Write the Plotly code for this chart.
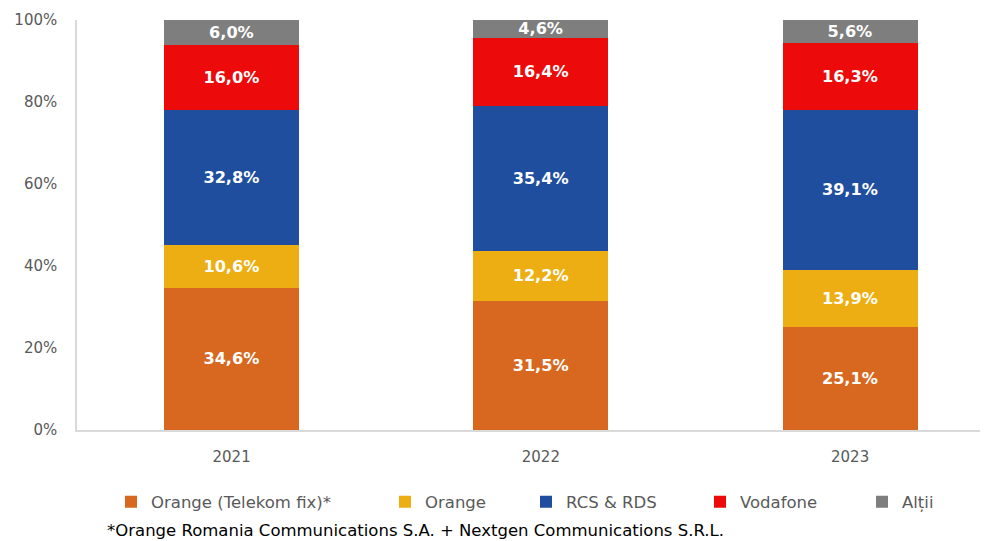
import plotly.graph_objects as go

years = ["2021", "2022", "2023"]
series_names = ["Orange (Telekom fix)*", "Orange", "RCS & RDS", "Vodafone", "Alții"]
telekom = [34.6, 31.5, 25.1]
orange = [10.6, 12.2, 13.9]
rcs = [32.8, 35.4, 39.1]
vodafone = [16.0, 16.4, 16.3]
altii = [6.0, 4.6, 5.6]
y_ticks = [0, 20, 40, 60, 80, 100]
y_tick_labels = ["0%", "20%", "40%", "60%", "80%", "100%"]
footnote = "*Orange Romania Communications S.A. + Nextgen Communications S.R.L."

values = [telekom, orange, rcs, vodafone, altii]
colors = ["#D8681F", "#ECAE12", "#1F4E9F", "#EC0A0A", "#7E7E7E"]
legend_ids = ["legend", "legend2", "legend3", "legend4", "legend5"]
text_starts = [147, 421, 562, 736, 898]

W, H = 984, 541
ml, mr, mt, mb = 77, 4, 20, 111
pw = W - ml - mr
ph = H - mt - mb

fig = go.Figure()
for name, vals, col, lg in zip(series_names, values, colors, legend_ids):
    fig.add_trace(go.Bar(
        x=years, y=vals, name=name, legend=lg,
        marker=dict(color=col, line=dict(width=0)),
        width=0.437,
        text=[f"{v:.1f}".replace(".", ",") + "%" for v in vals],
        textposition="inside", insidetextanchor="middle", textangle=0,
        textfont=dict(family="DejaVu Sans", size=16.5, color="white", weight="bold"),
        hoverinfo="skip",
    ))

layout_legends = {}
legend_y = -(502 - (H - mb)) / ph
for lg, ts in zip(legend_ids, text_starts):
    layout_legends[lg] = dict(
        x=(ts - 36 - ml) / pw, xanchor="left",
        y=legend_y, yanchor="middle",
        orientation="h", bgcolor="rgba(0,0,0,0)",
        font=dict(family="DejaVu Sans", size=16.5, color="#595959"),
        itemwidth=30,
    )

fig.update_layout(
    width=W, height=H,
    margin=dict(l=ml, r=mr, t=mt, b=mb, pad=0),
    barmode="stack",
    plot_bgcolor="white", paper_bgcolor="white",
    showlegend=True,
    uniformtext=dict(minsize=16, mode="show"),
    xaxis=dict(
        type="category", range=[-0.5, 2.42],
        showline=True, linecolor="#D9D9D9", linewidth=1.5,
        ticks="", showgrid=False,
        tickfont=dict(family="DejaVu Sans", size=15, color="#595959"),
        ticklabelstandoff=12,
    ),
    yaxis=dict(
        range=[0, 100], tickmode="array", tickvals=y_ticks, ticktext=y_tick_labels,
        showline=True, linecolor="#D9D9D9", linewidth=1.5,
        ticks="", showgrid=False, zeroline=False,
        tickfont=dict(family="DejaVu Sans", size=15, color="#595959"),
        ticklabelstandoff=15,
    ),
    annotations=[dict(
        text=footnote, xref="paper", yref="paper",
        x=(105 - ml) / pw, xanchor="left",
        y=-(530 - (H - mb)) / ph, yanchor="middle",
        showarrow=False,
        font=dict(family="DejaVu Sans", size=16.5, color="black"),
    )],
    **layout_legends,
)

fig.write_html(
    "out.html",
    config={"displayModeBar": False},
    post_script="document.body.style.margin='0';document.body.style.overflow='hidden';",
)
